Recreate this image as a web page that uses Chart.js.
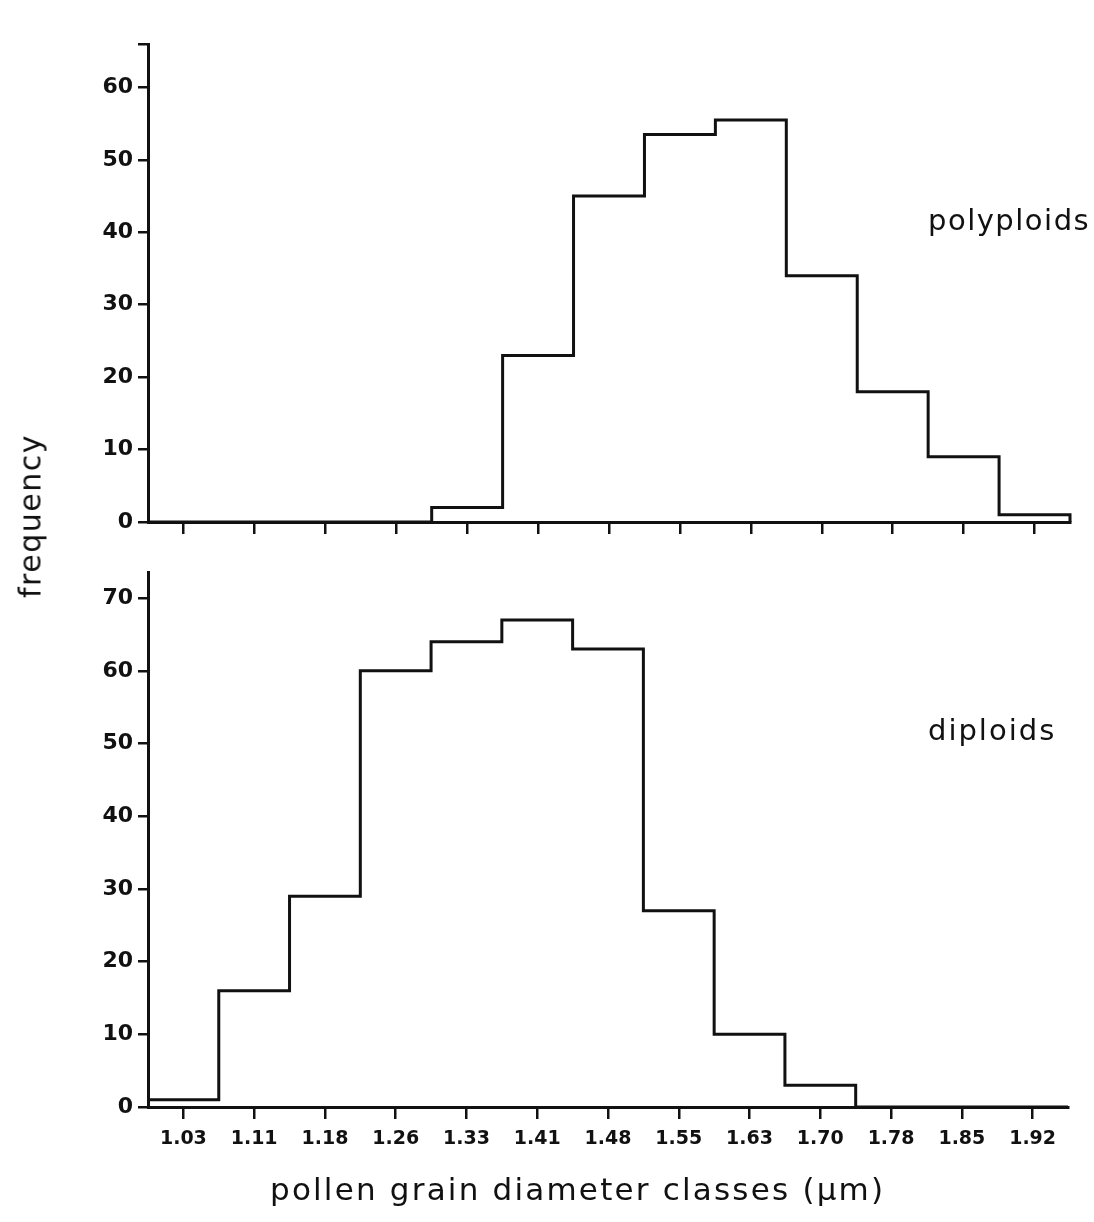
<!DOCTYPE html>
<html>
<head>
<meta charset="utf-8">
<script src="https://cdn.jsdelivr.net/npm/chart.js@4.4.1/dist/chart.umd.min.js"></script>
<style>
  body { margin: 0; background: #fff; width: 1094px; height: 1222px; position: relative; overflow: hidden; font-family: "DejaVu Sans", sans-serif; }
  #topWrap { position: absolute; left: 0; top: 0; }
  #botWrap { position: absolute; left: 0; top: 530px; }
  #freq { position: absolute; left: 30px; top: 516px; transform: translate(-50%, -50%) rotate(-90deg); font-size: 30px; letter-spacing: 1.5px; color: #111; white-space: nowrap; }
</style>
</head>
<body>
<div id="topWrap"><canvas id="topChart" width="1094" height="560"></canvas></div>
<div id="botWrap"><canvas id="botChart" width="1094" height="692"></canvas></div>
<div id="freq">frequency</div>
<script>
// diameter classes (µm), one per bin
const classLabels = ['1.03', '1.11', '1.18', '1.26', '1.33', '1.41', '1.48', '1.55', '1.63', '1.70', '1.78', '1.85', '1.92'];
// frequencies per class
const polyploids = [0, 0, 0, 0, 2, 23, 45, 53.5, 55.5, 34, 18, 9, 1];
const diploids = [1, 16, 29, 60, 64, 67, 63, 27, 10, 3, 0, 0, 0];
const yTicks = [0, 10, 20, 30, 40, 50, 60, 70];
const xTitle = 'pollen grain diameter classes (\u03bcm)';

const ink = '#111';

// outline points for a step histogram: bin i spans [i, i+1]
function stepPoints(vals) {
    const pts = vals.map((v, i) => ({ x: i, y: v }));
    pts.push({ x: vals.length, y: vals[vals.length - 1] });
    pts.push({ x: vals.length, y: 0 });
    return pts;
}

const textPlugin = {
    id: 'panelText',
    afterDraw(chart, args, opts) {
        const ctx = chart.ctx;
        ctx.save();
        ctx.fillStyle = ink;
        ctx.textBaseline = 'alphabetic';
        ctx.textAlign = 'left';
        (opts.items || []).forEach(t => {
            ctx.font = t.font;
            ctx.letterSpacing = t.spacing || '0px';
            ctx.fillText(t.text, t.x, t.y);
        });
        ctx.restore();
    }
};

function makeChart(id, vals, cfg) {
    return new Chart(document.getElementById(id), {
        type: 'line',
        data: {
            datasets: [{
                data: stepPoints(vals),
                stepped: 'before',
                borderColor: ink,
                borderWidth: 3,
                pointRadius: 0,
                fill: false,
                clip: false
            }]
        },
        options: {
            responsive: false,
            animation: false,
            layout: { padding: cfg.padding },
            plugins: {
                legend: { display: false },
                tooltip: { enabled: false },
                panelText: { items: cfg.texts }
            },
            scales: {
                x: {
                    type: 'linear',
                    min: 0,
                    max: classLabels.length,
                    afterBuildTicks: s => { s.ticks = classLabels.map((_, i) => ({ value: i + 0.5 })); },
                    ticks: {
                        autoSkip: false,
                        maxRotation: 0,
                        padding: 9,
                        color: ink,
                        font: { family: 'DejaVu Sans', size: 19, weight: 'bold' },
                        callback: v => cfg.showX ? classLabels[Math.floor(v)] : ''
                    },
                    grid: { drawOnChartArea: false, drawTicks: true, tickLength: 12, color: ink, lineWidth: 2.5 },
                    border: { display: true, color: ink, width: 3 },
                    afterFit: s => { s.height = cfg.xHeight; }
                },
                y: {
                    min: 0,
                    max: cfg.yMax,
                    afterBuildTicks: s => {
                        const t = yTicks.filter(v => v <= cfg.yMax).map(v => ({ value: v }));
                        if (cfg.topTick) t.push({ value: cfg.yMax });
                        s.ticks = t;
                    },
                    ticks: {
                        padding: 5,
                        color: ink,
                        font: { family: 'DejaVu Sans', size: 22, weight: 'bold' },
                        callback: v => yTicks.includes(v) ? v : ''
                    },
                    grid: { drawOnChartArea: false, drawTicks: true, tickLength: 10, color: ink, lineWidth: 2.5 },
                    border: { display: true, color: ink, width: 3 },
                    afterFit: s => { s.width = 148; }
                }
            }
        },
        plugins: [textPlugin]
    });
}

makeChart('topChart', polyploids, {
    padding: { left: 0, top: 44, right: 24, bottom: 0 },
    xHeight: 38,
    yMax: 66,
    topTick: true,
    showX: false,
    texts: [{ text: 'polyploids', x: 928, y: 230, font: '29px "DejaVu Sans"', spacing: '1.5px' }]
});

makeChart('botChart', diploids, {
    padding: { left: 0, top: 42, right: 26, bottom: 0 },
    xHeight: 115,
    yMax: 73.6,
    topTick: false,
    showX: true,
    texts: [
        { text: 'diploids', x: 928, y: 210, font: '29px "DejaVu Sans"', spacing: '2px' },
        { text: xTitle, x: 270, y: 670, font: '31px "DejaVu Sans"', spacing: '2.2px' }
    ]
});
</script>
</body>
</html>
